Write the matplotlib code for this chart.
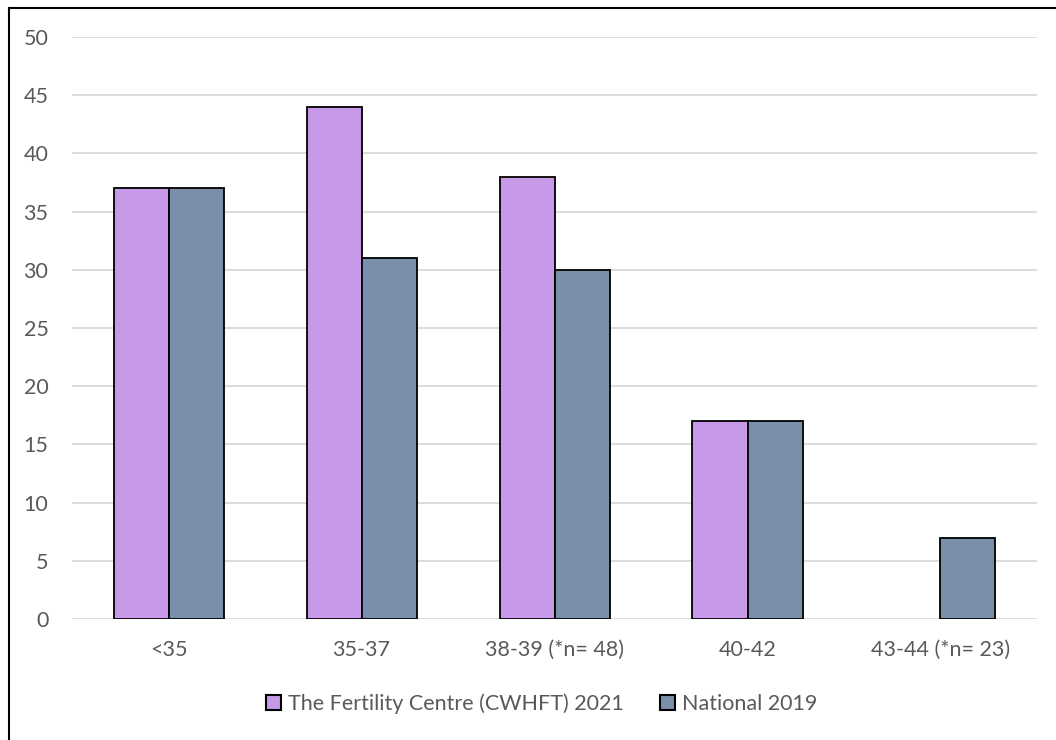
import matplotlib
matplotlib.use("Agg")
import matplotlib.pyplot as plt
import numpy as np
from matplotlib.lines import Line2D

categories = ["<35", "35-37", "38-39 (*n= 48)", "40-42", "43-44 (*n= 23)"]
centre_2021 = [37, 44, 38, 17, np.nan]
national_2019 = [37, 31, 30, 17, 7]
series_names = ["The Fertility Centre (CWHFT) 2021", "National 2019"]
colors = ["#C799E8", "#7A8FAA"]

plt.rcParams['font.family'] = ['Lato', 'DejaVu Sans']
fig = plt.figure(figsize=(10.56, 7.4), dpi=100)
ax = fig.add_axes([0.0682, 0.1635, 0.9138, 0.7865])

x = np.arange(len(categories))
w = 0.285
ax.bar(x - w/2, centre_2021, w, color=colors[0], edgecolor="black", linewidth=1.3, label=series_names[0], zorder=3)
ax.bar(x + w/2, national_2019, w, color=colors[1], edgecolor="black", linewidth=1.3, label=series_names[1], zorder=3)

ax.set_xlim(-0.5, len(categories) - 0.5)
ax.set_ylim(0, 50)
ax.set_yticks(range(0, 51, 5))
ax.set_xticks(x)
ax.set_xticklabels(categories)
ax.grid(axis="y", color="#D9D9D9", linewidth=1.3, zorder=0)
for s in ax.spines.values():
    s.set_visible(False)
ax.tick_params(axis="both", length=0, labelsize=15.5, colors="#595959")
ax.tick_params(axis="y", pad=17)
ax.tick_params(axis="x", pad=15)

leg = ax.legend(loc="center", bbox_to_anchor=(0.4868, -0.146), ncol=2, frameon=False,
                fontsize=15.5, labelcolor="#595959", handlelength=0.7, handleheight=0.7,
                handletextpad=0.3, columnspacing=1.7)
for h in leg.legend_handles:
    h.set_linewidth(1.5)

# outer border (left and top only)
fig.add_artist(Line2D([0.0085, 0.0085], [0, 0.989], color="black", linewidth=1.5, transform=fig.transFigure))
fig.add_artist(Line2D([0.0085, 1.0], [0.989, 0.989], color="black", linewidth=1.5, transform=fig.transFigure))

fig.savefig("out.png", dpi=100)
